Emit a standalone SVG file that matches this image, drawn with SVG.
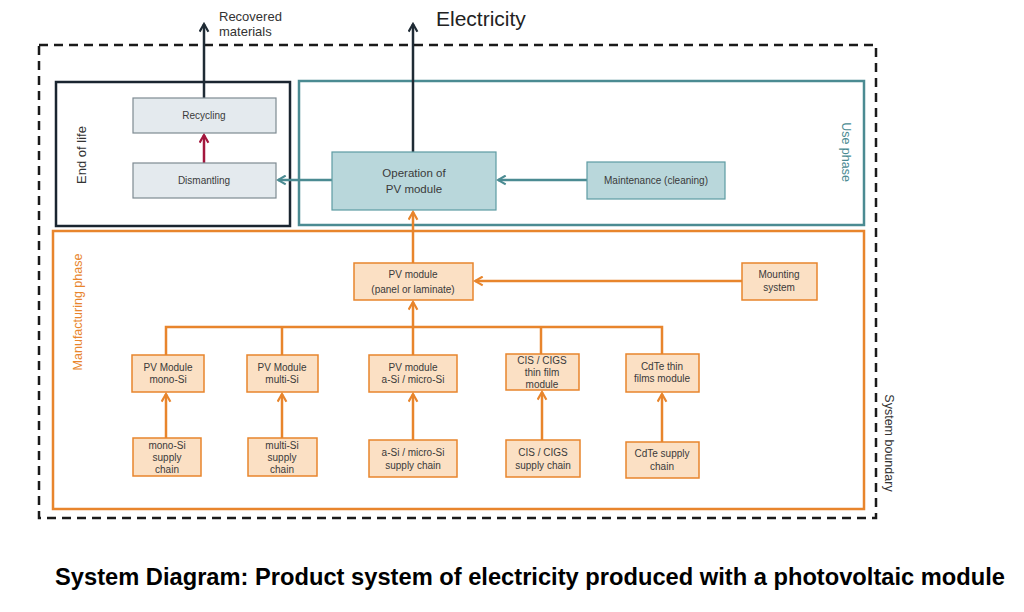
<svg xmlns="http://www.w3.org/2000/svg" width="1024" height="612" viewBox="0 0 1024 612">
<style>
.t{font-family:"Liberation Sans",Arial,sans-serif;font-size:10px;fill:#3a3a3a;text-anchor:middle}
.o{fill:#fbe0c4;stroke:#e8852c;stroke-width:1.5}
.g{fill:#e4eaee;stroke:#7e8a92;stroke-width:1.2}
.tl{fill:#b9d7db;stroke:#5d9ba2;stroke-width:1.2}
.ca{stroke:#e8852c;stroke-width:2.5;fill:none}
.ct{stroke:#4b8b92;stroke-width:2.5;fill:none}
.cd{stroke:#1f2b35;stroke-width:2.5;fill:none}
.lbl{font-family:"Liberation Sans",Arial,sans-serif;font-size:12.5px}
</style>
<defs>
<marker id="ao" viewBox="0 0 10 10" refX="8" refY="5" markerWidth="4.4" markerHeight="4.4" orient="auto" markerUnits="strokeWidth"><path d="M1,1 L8,5 L1,9" fill="none" stroke="#e8852c" stroke-width="2"/></marker>
<marker id="at" viewBox="0 0 10 10" refX="8" refY="5" markerWidth="4.4" markerHeight="4.4" orient="auto" markerUnits="strokeWidth"><path d="M1,1 L8,5 L1,9" fill="none" stroke="#4b8b92" stroke-width="2"/></marker>
<marker id="ad" viewBox="0 0 10 10" refX="8" refY="5" markerWidth="4.4" markerHeight="4.4" orient="auto" markerUnits="strokeWidth"><path d="M1,1 L8,5 L1,9" fill="none" stroke="#1f2b35" stroke-width="2"/></marker>
<marker id="ar" viewBox="0 0 10 10" refX="8" refY="5" markerWidth="4.4" markerHeight="4.4" orient="auto" markerUnits="strokeWidth"><path d="M1,1 L8,5 L1,9" fill="none" stroke="#a3173d" stroke-width="2"/></marker>
</defs>
<rect width="1024" height="612" fill="#ffffff"/>

<g id="system-boundary">
<rect x="39" y="45" width="837" height="473" fill="none" stroke="#1a1a1a" stroke-width="2.5" stroke-dasharray="9,6"/>
<text class="lbl" transform="translate(885,443) rotate(90)" text-anchor="middle" fill="#333">System boundary</text>
</g>

<g id="end-of-life">
<rect x="56" y="82" width="234" height="144" fill="none" stroke="#1a2530" stroke-width="2.5"/>
<text class="lbl" transform="translate(86,155) rotate(-90)" text-anchor="middle" fill="#333" style="font-size:13px">End of life</text>
</g>

<g id="use-phase">
<rect x="299" y="81" width="565" height="144" fill="none" stroke="#4b8b92" stroke-width="2.5"/>
<text class="lbl" transform="translate(842,152) rotate(90)" text-anchor="middle" fill="#4b8b92">Use phase</text>
</g>

<g id="manufacturing-phase">
<rect x="53" y="231" width="811" height="278" fill="none" stroke="#e8852c" stroke-width="2.5"/>
<text class="lbl" transform="translate(82,312) rotate(-90)" text-anchor="middle" fill="#e8852c">Manufacturing phase</text>
</g>

<g id="connectors">
<path class="cd" d="M204,98 V24" marker-end="url(#ad)"/>
<path class="cd" d="M413,152 V24" marker-end="url(#ad)"/>
<path d="M204,163 V135" stroke="#a3173d" stroke-width="2.5" fill="none" marker-end="url(#ar)"/>
<path class="ct" d="M332,180 H278" marker-end="url(#at)"/>
<path class="ct" d="M587,180 H498" marker-end="url(#at)"/>
<path class="ca" d="M413,263 V212" marker-end="url(#ao)"/>
<path class="ca" d="M742,281 H475" marker-end="url(#ao)"/>
<path class="ca" d="M166,355 V327 H662 V354"/>
<path class="ca" d="M282,355 V327"/>
<path class="ca" d="M541,354 V327"/>
<path class="ca" d="M413,327 V302" marker-end="url(#ao)"/>
<path class="ca" d="M413,355 V327"/>
<path class="ca" d="M166,438 V394" marker-end="url(#ao)"/>
<path class="ca" d="M282,438 V394" marker-end="url(#ao)"/>
<path class="ca" d="M413,440 V394" marker-end="url(#ao)"/>
<path class="ca" d="M542,440 V392" marker-end="url(#ao)"/>
<path class="ca" d="M662,442 V394" marker-end="url(#ao)"/>
</g>

<g id="recovered-materials">
<text x="219" y="21" style="font-family:'Liberation Sans',Arial,sans-serif;font-size:13px;fill:#333">Recovered</text>
<text x="219" y="36" style="font-family:'Liberation Sans',Arial,sans-serif;font-size:13px;fill:#333">materials</text>
</g>
<g id="electricity">
<text x="436" y="26" style="font-family:'Liberation Sans',Arial,sans-serif;font-size:21px;fill:#222">Electricity</text>
</g>

<g id="recycling"><rect class="g" x="133" y="98" width="143" height="35"/><text class="t" x="204" y="119">Recycling</text></g>
<g id="dismantling"><rect class="g" x="133" y="163" width="143" height="35"/><text class="t" x="204" y="184">Dismantling</text></g>
<g id="operation"><rect class="tl" x="332" y="152" width="164" height="58"/><text class="t" x="414" y="177" style="font-size:11.5px">Operation of</text><text class="t" x="414" y="193" style="font-size:11.5px">PV module</text></g>
<g id="maintenance"><rect class="tl" x="587" y="162" width="138" height="37"/><text class="t" x="656" y="184">Maintenance (cleaning)</text></g>

<g id="pv-module"><rect class="o" x="354" y="263" width="119" height="37"/><text class="t" x="413" y="278">PV module</text><text class="t" x="413" y="293">(panel or laminate)</text></g>
<g id="mounting"><rect class="o" x="742" y="263" width="75" height="37"/><text class="t" x="779" y="278">Mounting</text><text class="t" x="779" y="291">system</text></g>

<g id="mono-si"><rect class="o" x="132" y="355" width="72" height="37"/><text class="t" x="168" y="371">PV Module</text><text class="t" x="168" y="383">mono-Si</text></g>
<g id="multi-si"><rect class="o" x="247" y="355" width="71" height="37"/><text class="t" x="282" y="371">PV Module</text><text class="t" x="282" y="383">multi-Si</text></g>
<g id="a-si"><rect class="o" x="369" y="355" width="88" height="37"/><text class="t" x="413" y="371">PV module</text><text class="t" x="413" y="383">a-Si / micro-Si</text></g>
<g id="cis"><rect class="o" x="506" y="354" width="73" height="36"/><text class="t" x="542" y="364">CIS / CIGS</text><text class="t" x="542" y="376">thin film</text><text class="t" x="542" y="388">module</text></g>
<g id="cdte"><rect class="o" x="626" y="354" width="73" height="38"/><text class="t" x="662" y="370">CdTe thin</text><text class="t" x="662" y="382">films module</text></g>

<g id="mono-si-supply"><rect class="o" x="133" y="438" width="68" height="38"/><text class="t" x="167" y="449">mono-Si</text><text class="t" x="167" y="461">supply</text><text class="t" x="167" y="473">chain</text></g>
<g id="multi-si-supply"><rect class="o" x="248" y="438" width="69" height="38"/><text class="t" x="282" y="449">multi-Si</text><text class="t" x="282" y="461">supply</text><text class="t" x="282" y="473">chain</text></g>
<g id="a-si-supply"><rect class="o" x="369" y="440" width="88" height="37"/><text class="t" x="413" y="456">a-Si / micro-Si</text><text class="t" x="413" y="469">supply chain</text></g>
<g id="cis-supply"><rect class="o" x="506" y="440" width="74" height="37"/><text class="t" x="543" y="456">CIS / CIGS</text><text class="t" x="543" y="469">supply chain</text></g>
<g id="cdte-supply"><rect class="o" x="626" y="442" width="73" height="36"/><text class="t" x="662" y="457">CdTe supply</text><text class="t" x="662" y="470">chain</text></g>

<g id="caption">
<text x="55" y="585" textLength="950" lengthAdjust="spacingAndGlyphs" style="font-family:'Liberation Sans',Arial,sans-serif;font-size:23px;font-weight:bold;fill:#000">System Diagram: Product system of electricity produced with a photovoltaic module</text>
</g>
</svg>
